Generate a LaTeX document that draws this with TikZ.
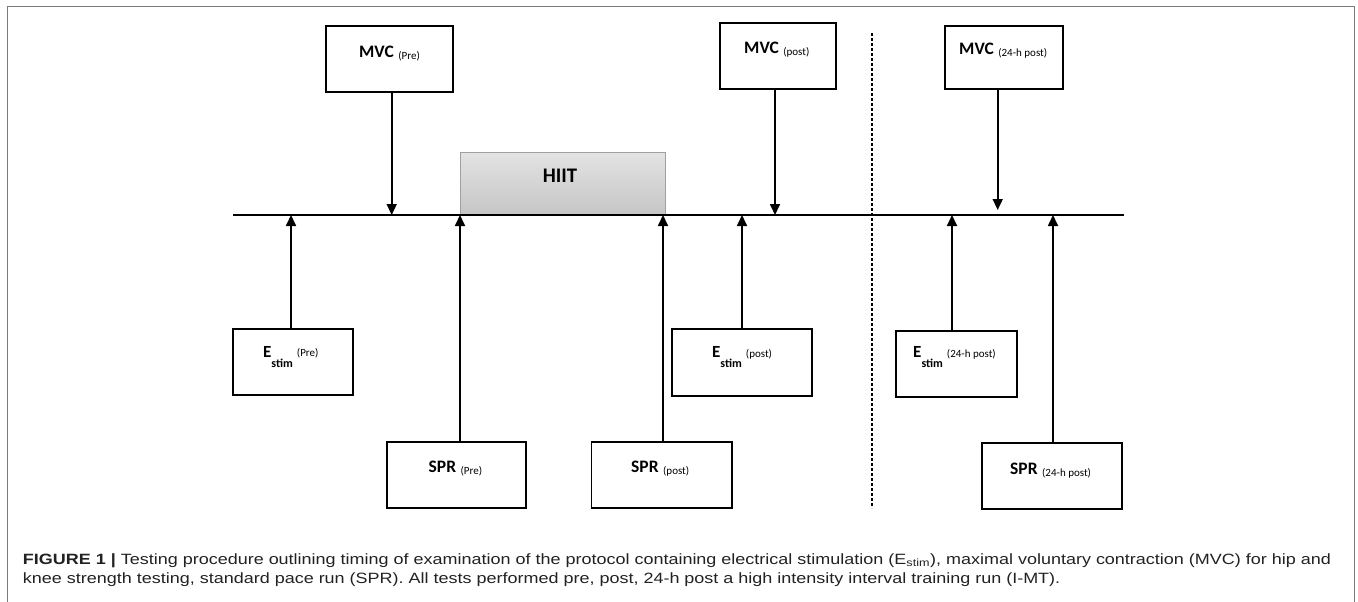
\documentclass[tikz,border=0pt]{standalone}
\usepackage{fontspec}
\usepackage{graphicx}
\usetikzlibrary{arrows.meta}
\newfontfamily\boxfnt{Carlito}
\newfontfamily\capfnt{Liberation Sans}
\newlength\capwA
\newcommand\bigb[1]{{\boxfnt\bfseries\fontsize{17.5}{20}\selectfont #1}}
\newcommand\smallr[1]{{\boxfnt\fontsize{11}{13}\selectfont #1}}
\newcommand\mlab[2]{\bigb{#1}\hspace{4.5pt}\raisebox{-2pt}{\smallr{#2}}}
\newcommand\elab[1]{{\boxfnt\bfseries\fontsize{17}{20}\selectfont E}\raisebox{-10pt}{\boxfnt\bfseries\fontsize{12}{14}\selectfont stim}\hspace{4pt}\raisebox{0.5pt}{\smallr{#1}}}
\definecolor{capcol}{HTML}{222222}
\definecolor{framecol}{HTML}{7A7A7A}
\begin{document}
\begin{tikzpicture}[x=1pt,y=-1pt,
  bx/.style={draw=black, line width=1.8pt, fill=white, inner sep=0pt},
  lab/.style={anchor=base west, inner sep=0pt},
  arr/.style={line width=1.7pt, -{Triangle[length=11pt,width=10pt]}},
  tline/.style={line width=2pt},
  sep/.style={line width=1.4pt, dash pattern=on 3pt off 2pt}]
\useasboundingbox (0,0) rectangle (1358,602);
\fill[white] (0,0) rectangle (1358,602);
% frame
\draw[framecol, line width=1.4pt] (7.3,602) -- (7.3,6.7) -- (1354.6,6.7) -- (1354.6,602);
% HIIT
\node[draw={rgb,255:red,160;green,160;blue,160}, line width=1pt, top color=gray!22, bottom color=gray!45,
  minimum width=205pt, minimum height=63pt, inner sep=0pt] (hiit) at (562.5,183.5) {};
\node[anchor=base, inner sep=0pt] (hiitl) at (560,182.3) {{\boxfnt\bfseries\fontsize{20.7}{24}\selectfont HIIT}};
% timeline
\coordinate (tlA) at (233,215);
\coordinate (tlB) at (1124,215);
\draw[tline] (tlA) -- (tlB);
% separator
\coordinate (sepA) at (872,33);
\coordinate (sepB) at (872,508);
\draw[sep] (sepA) -- (sepB);
% top boxes
\node[bx, minimum width=127pt, minimum height=66pt] (mvcpre) at (389.5,59) {};
\node[bx, minimum width=116pt, minimum height=66pt] (mvcpost) at (778,56) {};
\node[bx, minimum width=118pt, minimum height=63pt] (mvc24) at (1004,57.5) {};
\node[lab] (mvcprel) at (359,57.3) {\mlab{MVC}{(Pre)}};
\node[lab] (mvcpostl) at (744,53.5) {\mlab{MVC}{(post)}};
\node[lab] (mvc24l) at (959,54.8) {\mlab{MVC}{(24-h post)}};
% E stim boxes
\node[bx, minimum width=120.5pt, minimum height=66.3pt] (estpre) at (293,362.2) {};
\node[bx, minimum width=140pt, minimum height=67pt] (estpost) at (742,362.5) {};
\node[bx, minimum width=120.7pt, minimum height=66.3pt] (est24) at (956.3,364.2) {};
\node[lab] (estprel) at (263,357) {\elab{(Pre)}};
\node[lab] (estpostl) at (712,357.5) {\elab{(post)}};
\node[lab] (est24l) at (913,357.5) {\elab{(24-h post)}};
% SPR boxes
\node[bx, minimum width=139pt, minimum height=66pt] (sprpre) at (456.5,475) {};
\node[bx, minimum width=140.5pt, minimum height=66pt] (sprpost) at (661.8,475) {};
\node[bx, minimum width=139.7pt, minimum height=66.3pt] (spr24) at (1051.8,475.8) {};
\node[lab] (sprprel) at (428.5,472.3) {\mlab{SPR}{(Pre)}};
\node[lab] (sprpostl) at (631,472.3) {\mlab{SPR}{(post)}};
\node[lab] (spr24l) at (1010,474.5) {\mlab{SPR}{(24-h post)}};
% timeline targets
\coordinate (t1) at (391.7,215);
\coordinate (t2) at (775,215);
\coordinate (t3) at (997.7,210);
\coordinate (t4) at (291,215);
\coordinate (t5) at (742,215);
\coordinate (t6) at (952,215);
\coordinate (t7) at (460,215);
\coordinate (t8) at (663,215);
\coordinate (t9) at (1053,215);
% arrows down
\draw[arr] (mvcpre.south -| t1) -- (t1);
\draw[arr] (mvcpost.south -| t2) -- (t2);
\draw[arr] (mvc24.south -| t3) -- (t3);
% arrows up
\draw[arr] (estpre.north -| t4) -- (t4);
\draw[arr] (estpost.north -| t5) -- (t5);
\draw[arr] (est24.north -| t6) -- (t6);
\draw[arr] (sprpre.north -| t7) -- (t7);
\draw[arr] (sprpost.north -| t8) -- (t8);
\draw[arr] (spr24.north -| t9) -- (t9);
% caption
\node[anchor=base west, inner sep=0pt, text=capcol] (cap1) at (22.7,564) {\capfnt\fontsize{14.9}{18}\selectfont
  \setbox0=\hbox{\textbf{FIGURE 1 |} Testing procedure outlining timing of examination of the protocol containing electrical stimulation (E\textsubscript{stim}), maximal voluntary contraction (MVC) for hip and}%
  \global\capwA=\wd0
  \pgfmathsetmacro\capsx{1308/\capwA}\global\let\capsxg\capsx
  \scalebox{\capsx}[1]{\box0}};
\node[anchor=base west, inner sep=0pt, text=capcol] (cap2) at (22.7,583.5) {\capfnt\fontsize{14.9}{18}\selectfont
  \scalebox{\capsxg}[1]{knee strength testing, standard pace run (SPR). All tests performed pre, post, 24-h post a high intensity interval training run (I-MT).}};
\end{tikzpicture}
\end{document}
